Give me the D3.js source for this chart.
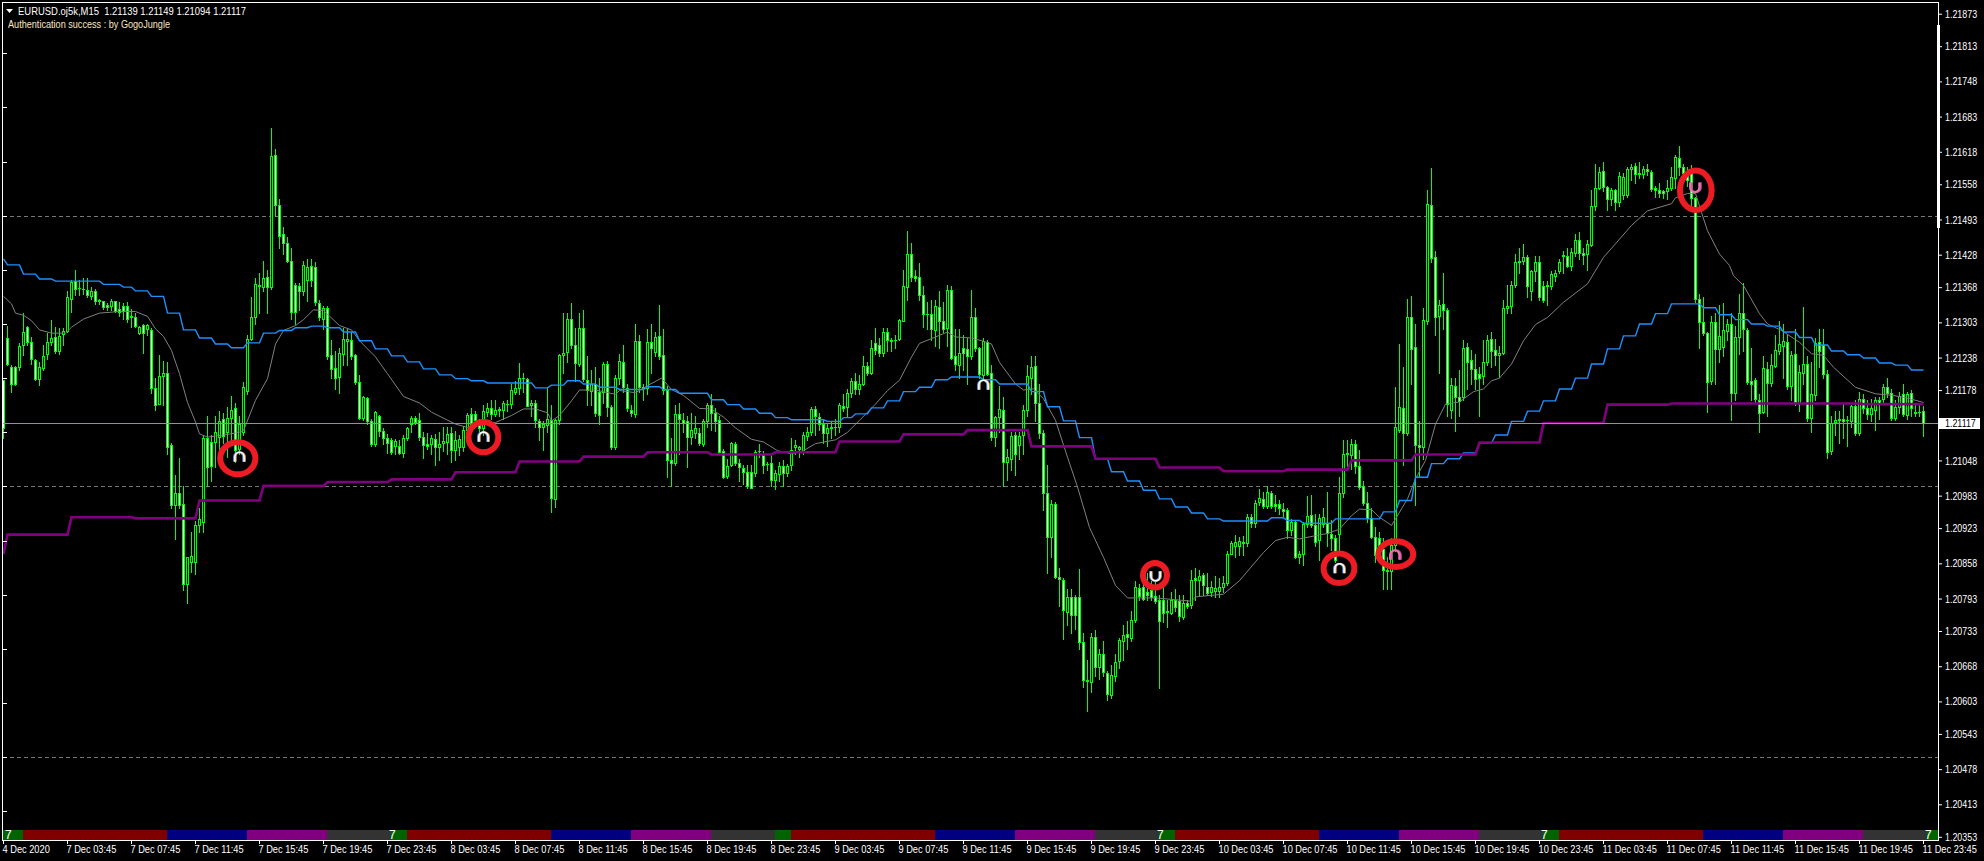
<!DOCTYPE html>
<html><head><meta charset="utf-8">
<script src="https://cdn.jsdelivr.net/npm/d3@7/dist/d3.min.js"></script>
<style>
html,body{margin:0;padding:0;background:#000;overflow:hidden}
svg{display:block}
text{font-family:"Liberation Sans",Arial,sans-serif;font-size:10.5px;fill:#fff}
</style></head><body>
<svg id="c" width="1984" height="861"></svg>
<script>
// Candles: [open, high, low, close], in points above 1.20000 (M15 bars)
const barsDec7 = [
[1196,1196,1089,1107],[1275,1296,1224,1227],[1220,1224,1175,1190],[1220,1222,1187,1190],[1220,1264,1215,1259],[1261,1320,1243,1286],[1295,1296,1261,1267],[1266,1276,1227,1235],[1233,1236,1196,1199],[1198,1230,1187,1220],
[1218,1261,1215,1241],[1244,1283,1236,1266],[1267,1308,1261,1275],[1276,1295,1246,1251],[1251,1292,1244,1278],[1281,1292,1261,1287],[1287,1360,1285,1349],[1347,1381,1323,1378],[1380,1400,1353,1365],[1367,1381,1353,1366],
[1365,1384,1355,1364],[1363,1384,1350,1353],[1352,1369,1347,1361],[1361,1364,1337,1342],[1344,1347,1337,1343],[1342,1343,1328,1332],[1335,1339,1325,1332],[1333,1346,1326,1342],[1342,1343,1323,1324],[1327,1340,1315,1322],
[1333,1339,1310,1324],[1334,1340,1303,1310],[1315,1327,1294,1312],[1313,1320,1294,1296],[1283,1297,1281,1295],[1299,1300,1246,1284],[1290,1300,1280,1299],[1289,1292,1172,1181],[1181,1200,1142,1150],[1153,1243,1153,1204],
[1204,1232,1150,1209],[1209,1230,1060,1073],[1076,1080,960,965],[965,1022,903,987],[987,1053,960,965],[968,1000,808,820],[820,869,785,869],[860,916,842,872],[860,937,839,928],[928,960,915,939],
[935,1095,916,1089],[1089,1130,1000,1035],[1082,1095,1010,1037],[1082,1130,1036,1100],[1092,1139,1040,1121],[1124,1135,1080,1093],[1100,1147,1055,1127],[1126,1167,1085,1142],[1144,1155,1045,1067],[1070,1130,1060,1116],
[1101,1192,1095,1183],[1177,1280,1170,1272],[1273,1350,1270,1312],[1312,1385,1300,1373],[1371,1395,1320,1372],[1369,1417,1360,1384],[1386,1400,1320,1368],[1369,1662,1365,1610],[1612,1623,1500,1520],[1520,1530,1440,1462],
[1466,1480,1430,1449],[1449,1460,1414,1417],[1417,1440,1310,1323],[1372,1375,1300,1322],[1370,1375,1326,1361],[1361,1417,1353,1409],[1381,1420,1342,1406],[1407,1420,1370,1381],[1405,1415,1335,1341],[1339,1345,1308,1312],
[1310,1333,1290,1329],[1329,1333,1235,1241],[1243,1270,1200,1216],[1218,1250,1180,1201],[1203,1255,1172,1246],[1244,1292,1225,1272],[1269,1290,1225,1273],[1270,1285,1235,1241],[1243,1245,1190,1192],[1192,1205,1124,1126],
[1126,1167,1122,1165],[1163,1166,1116,1120],[1120,1125,1074,1079],[1079,1140,1075,1138],[1130,1132,1093,1103],[1103,1108,1079,1090],[1090,1096,1062,1081]];
const barsDec8 = [
[1086,1090,1060,1064],[1074,1087,1059,1084],[1075,1085,1060,1061],[1061,1095,1055,1089],[1089,1110,1085,1107],[1116,1130,1100,1126],[1127,1130,1115,1119],[1122,1135,1085,1091],[1092,1100,1053,1077],[1078,1098,1070,1075],
[1078,1095,1060,1089],[1088,1097,1040,1073],[1072,1100,1048,1079],[1080,1110,1065,1083],[1082,1110,1060,1096],[1098,1110,1045,1068],[1068,1103,1048,1086],[1072,1095,1058,1087],[1073,1112,1066,1104],[1104,1135,1095,1132],
[1133,1145,1100,1105],[1134,1140,1110,1122],[1113,1125,1090,1107],[1107,1150,1095,1140],[1138,1155,1130,1144],[1145,1160,1125,1133],[1133,1160,1130,1142],[1143,1147,1130,1141],[1141,1158,1125,1155],[1153,1160,1140,1152],
[1153,1190,1145,1178],[1175,1195,1170,1181],[1181,1228,1170,1201],[1200,1209,1175,1201],[1199,1200,1148,1149],[1151,1160,1130,1155],[1155,1160,1110,1122],[1121,1125,1085,1110],[1109,1120,1068,1115],[1114,1183,1100,1125],
[1122,1150,952,978],[976,1125,962,1122],[1122,1245,1115,1243],[1243,1320,1210,1246],[1249,1320,1230,1310],[1310,1338,1255,1261],[1261,1292,1195,1228],[1227,1320,1222,1292],[1292,1325,1195,1198],[1196,1240,1150,1178],
[1177,1215,1150,1189],[1190,1220,1130,1135],[1175,1200,1115,1132],[1175,1230,1155,1226],[1227,1232,1130,1146],[1146,1150,1070,1072],[1072,1205,1069,1201],[1200,1245,1190,1232],[1230,1262,1175,1183],[1181,1190,1140,1144],
[1142,1150,1130,1135],[1134,1300,1128,1269],[1269,1280,1175,1183],[1183,1190,1160,1182],[1182,1290,1170,1267],[1267,1300,1210,1255],[1249,1285,1240,1276],[1278,1335,1235,1240],[1243,1290,1170,1179],[1179,1185,1017,1049],
[1048,1090,1000,1043],[1044,1150,1040,1134],[1134,1155,1060,1124],[1123,1135,1100,1118],[1121,1130,1035,1092],[1091,1135,1078,1105],[1098,1130,1090,1107],[1099,1107,1077,1080],[1078,1125,1075,1120],[1120,1155,1110,1150],
[1150,1170,1105,1136],[1136,1145,1102,1120],[1123,1130,1062,1064],[1066,1070,1015,1018],[1019,1050,1015,1038],[1040,1082,1038,1080],[1078,1082,1040,1043],[1043,1050,1010,1035],[1034,1040,1005,1027],[1027,1040,998,1000],
[1027,1040,997,998],[1025,1068,1020,1064],[1066,1078,1055,1065],[1058,1065,1025,1040],[1042,1045,1030,1041],[1043,1060,1000,1012]];
const barsDec9 = [
[1012,1030,995,1024],[1023,1045,1010,1038],[1038,1048,1000,1024],[1024,1042,1020,1038],[1040,1090,1030,1067],[1072,1085,1060,1076],[1070,1075,1055,1072],[1064,1100,1060,1095],[1094,1110,1085,1100],[1100,1146,1095,1143],
[1143,1148,1095,1130],[1128,1135,1105,1115],[1115,1122,1080,1098],[1098,1115,1075,1107],[1108,1120,1090,1109],[1110,1125,1095,1109],[1110,1155,1100,1150],[1148,1170,1140,1144],[1146,1180,1130,1173],[1172,1200,1165,1195],
[1195,1210,1170,1180],[1180,1205,1170,1190],[1190,1240,1188,1222],[1222,1230,1205,1209],[1210,1270,1208,1255],[1264,1292,1245,1252],[1261,1275,1240,1247],[1247,1292,1240,1286],[1286,1292,1250,1270],[1271,1275,1250,1269],
[1271,1280,1255,1270],[1273,1310,1270,1308],[1306,1400,1305,1370],[1369,1472,1345,1430],[1429,1450,1380,1387],[1388,1400,1380,1384],[1386,1412,1345,1353],[1353,1370,1295,1318],[1319,1340,1290,1318],[1318,1345,1270,1290],
[1289,1345,1260,1333],[1331,1360,1255,1305],[1305,1340,1285,1290],[1292,1372,1260,1363],[1363,1370,1235,1238],[1241,1290,1215,1226],[1224,1290,1200,1247],[1255,1280,1215,1247],[1253,1275,1190,1240],[1240,1362,1235,1312],
[1312,1330,1250,1255],[1255,1258,1200,1208],[1206,1275,1200,1269],[1267,1270,1205,1208],[1209,1225,1085,1091],[1091,1130,1075,1128],[1128,1185,1100,1143],[1142,1165,1000,1045],[1046,1070,1012,1054],[1050,1100,1030,1093],
[1095,1100,1022,1060],[1076,1100,1050,1093],[1095,1150,1060,1141],[1142,1225,1130,1204],[1200,1240,1170,1220],[1222,1240,1120,1155],[1155,1190,1090,1098],[1098,1105,957,988],[987,1040,840,906],[906,975,870,968],
[968,972,830,833],[832,850,780,829],[827,830,718,771],[768,810,745,796],[796,810,730,762],[795,800,737,762],[796,847,700,713],[713,730,630,642],[642,680,585,640],[639,730,620,722],
[722,735,650,667],[667,700,645,691],[691,715,650,658],[656,660,605,616],[615,670,610,652],[650,690,640,676],[677,720,665,716],[715,745,680,725],[727,752,700,722],[721,770,715,754],
[754,825,750,815],[813,820,790,797],[814,830,790,793],[805,840,790,800],[808,825,790,796],[797,825,785,789]];
const barsDec10 = [
[791,800,628,752],[791,815,750,767],[770,790,740,768],[767,805,765,790],[791,810,770,778],[789,800,752,760],[759,800,755,785],[785,790,775,780],[781,845,775,827],[830,850,790,828],
[828,845,800,835],[836,840,800,818],[814,840,800,804],[805,825,798,815],[807,835,795,813],[806,830,795,815],[814,835,805,821],[821,880,818,876],[876,900,875,896],[890,910,870,897],
[890,907,873,900],[897,908,873,895],[895,950,890,943],[943,950,925,932],[932,975,925,970],[971,995,965,979],[976,990,960,964],[964,1001,960,990],[988,992,960,964],[968,985,955,964],
[967,975,950,960],[959,970,945,955],[957,960,905,920],[920,940,910,935],[935,938,868,870],[870,880,858,876],[875,935,855,931],[931,983,925,945],[947,985,925,928],[928,950,890,898],
[901,950,865,941],[931,960,925,943],[932,990,890,914],[912,938,882,904],[904,910,860,864],[913,1018,877,987],[988,1085,980,1060],[1060,1085,1030,1062],[1058,1088,1032,1079],[1079,1085,1025,1038],
[1038,1067,995,999],[1001,1010,965,969],[969,990,935,941],[941,960,904,907],[907,925,860,873],[905,915,860,882],[885,905,810,845],[846,870,810,844],[843,905,810,892],[892,1183,880,1110],
[1105,1263,1100,1146],[1144,1220,1040,1098],[1098,1346,1095,1312],[1312,1352,1190,1254],[1257,1300,965,1077],[1076,1120,1020,1072],[1073,1330,1050,1307],[1306,1547,1300,1521],[1520,1588,1415,1421],[1423,1435,1280,1313],
[1315,1345,1210,1335],[1337,1395,1290,1325],[1325,1330,1130,1153],[1142,1200,1127,1187],[1185,1200,1103,1166],[1166,1215,1130,1157],[1166,1270,1160,1255],[1257,1265,1180,1230],[1233,1252,1190,1216],[1217,1245,1180,1198],
[1207,1220,1130,1200],[1204,1270,1190,1229],[1230,1280,1225,1270],[1272,1285,1220,1251],[1252,1272,1225,1243],[1242,1260,1203,1247],[1247,1345,1245,1329],[1329,1372,1320,1334],[1334,1380,1320,1372],[1372,1430,1368,1414],
[1414,1440,1395,1417],[1417,1447,1410,1424],[1424,1428,1350,1370],[1361,1400,1345,1398],[1398,1425,1380,1414],[1414,1425,1345,1350]];
const barsDec11 = [
[1370,1380,1340,1345],[1370,1380,1335,1372],[1371,1397,1365,1392],[1389,1400,1380,1394],[1397,1420,1395,1415],[1425,1435,1395,1427],[1426,1440,1405,1407],[1407,1440,1400,1433],[1431,1466,1425,1456],[1456,1470,1420,1431],
[1432,1440,1410,1428],[1429,1455,1400,1448],[1446,1547,1444,1518],[1517,1595,1510,1552],[1552,1590,1550,1581],[1583,1600,1545,1553],[1553,1555,1510,1530],[1530,1552,1520,1547],[1547,1550,1510,1526],[1525,1580,1518,1573],
[1538,1578,1530,1571],[1539,1590,1535,1587],[1586,1595,1565,1589],[1592,1597,1560,1577],[1578,1600,1570,1577],[1577,1592,1570,1587],[1587,1595,1575,1582],[1580,1585,1545,1550],[1552,1555,1535,1547],[1547,1560,1535,1541],
[1545,1548,1532,1541],[1546,1565,1530,1552],[1552,1590,1548,1571],[1569,1612,1552,1608],[1606,1628,1575,1590],[1590,1595,1565,1578],[1578,1590,1555,1566],[1580,1593,1520,1532],[1532,1535,1340,1347],[1347,1355,1255,1304],
[1304,1350,1280,1284],[1283,1285,1137,1193],[1195,1315,1190,1303],[1303,1320,1190,1254],[1254,1335,1230,1278],[1257,1338,1240,1289],[1287,1310,1270,1300],[1300,1320,1122,1173],[1173,1296,1160,1276],[1276,1356,1245,1321],
[1320,1375,1250,1290],[1289,1293,1190,1192],[1195,1255,1160,1190],[1196,1200,1155,1161],[1160,1170,1100,1136],[1138,1240,1135,1218],[1216,1230,1130,1191],[1191,1245,1185,1224],[1223,1280,1220,1252],[1251,1305,1245,1263],
[1260,1300,1200,1268],[1267,1280,1180,1186],[1186,1250,1160,1243],[1244,1290,1150,1156],[1155,1225,1140,1212],[1210,1331,1190,1227],[1226,1240,1120,1127],[1126,1230,1100,1170],[1169,1275,1160,1264],[1266,1290,1220,1250],
[1261,1290,1200,1207],[1207,1215,1052,1064],[1066,1130,1060,1118],[1119,1140,1095,1123],[1124,1140,1080,1123],[1125,1152,1090,1120],[1123,1130,1075,1122],[1120,1150,1110,1148],[1148,1160,1095,1099],[1098,1175,1095,1162],
[1162,1170,1135,1144],[1144,1160,1125,1133],[1133,1162,1120,1144],[1142,1165,1105,1159],[1160,1165,1125,1153],[1162,1190,1155,1184],[1183,1200,1165,1172],[1172,1180,1122,1127],[1127,1160,1122,1147],[1147,1175,1135,1167],
[1170,1190,1130,1134],[1132,1175,1125,1170],[1172,1178,1130,1144],[1138,1150,1130,1136],[1138,1150,1130,1137],[1139,1149,1094,1117]];

// Indicator lines: [bar, points above 1.20000]
const blueMA = [[0,1421],[1,1410],[5,1393],[9,1384],[13,1380],[25,1374],[30,1369],[33,1362],[37,1352],[41,1321],[45,1290],[49,1275],[53,1264],[57,1257],[61,1266],[65,1284],[69,1289],[73,1294],[77,1297],[81,1294],[85,1286],[89,1270],[93,1255],[97,1242],[101,1231],[105,1218],[109,1207],[113,1200],[117,1196],[121,1192],[133,1183],[137,1188],[141,1196],[145,1190],[149,1184],[154,1180],[161,1185],[165,1180],[169,1173],[177,1161],[181,1152],[185,1144],[189,1136],[193,1128],[197,1124],[206,1121],[210,1128],[213,1135],[217,1146],[221,1159],[225,1176],[229,1184],[233,1198],[237,1203],[245,1198],[249,1190],[257,1176],[261,1148],[265,1122],[269,1091],[273,1052],[277,1028],[281,1011],[285,994],[289,978],[293,963],[297,952],[301,941],[305,937],[317,943],[321,938],[325,933],[333,941],[345,954],[349,975],[353,1018],[357,1043],[361,1052],[365,1063],[369,1081],[373,1096],[377,1121],[381,1140],[385,1159],[389,1181],[393,1201],[397,1227],[401,1255],[405,1279],[409,1301],[413,1320],[417,1338],[425,1331],[429,1318],[433,1309],[437,1301],[441,1297],[445,1286],[449,1276],[453,1262],[457,1251],[461,1244],[465,1238],[469,1229],[473,1225],[477,1216],[480,1216]];
const purpleMA = [[0,876],[1,912],[17,944],[33,942],[49,975],[65,1002],[81,1009],[97,1014],[113,1027],[129,1047],[145,1056],[161,1064],[177,1060],[193,1064],[209,1084],[225,1097],[241,1105],[257,1075],[273,1052],[289,1036],[305,1029],[321,1032],[337,1049],[353,1060],[369,1082],[385,1118],[401,1152],[417,1154],[465,1153],[480,1153]];
const grayMA = [[0,1352],[2,1338],[3,1321],[5,1317],[7,1307],[9,1290],[12,1284],[15.5,1284],[17,1295],[20,1310],[24,1321],[29,1324],[33,1324],[36,1315],[38,1292],[40,1278],[42,1252],[44,1209],[46,1156],[48,1120],[49,1098],[51,1092],[56,1097],[59,1101],[60,1104],[63,1160],[66,1200],[68,1264],[70,1289],[73,1298],[75,1309],[77.5,1327],[80,1326],[82,1312],[84,1298],[87,1290],[89,1270],[93,1240],[96,1209],[100,1167],[104,1155],[107,1138],[113,1116],[116,1110],[123,1119],[127,1132],[130,1144],[133,1144],[136,1137],[137,1122],[139,1132],[142,1159],[144,1179],[148,1179],[153,1171],[154,1178],[158,1174],[161,1187],[164.5,1201],[167,1180],[170,1169],[174,1145],[177,1144],[180,1129],[183,1109],[187,1088],[190,1083],[193.5,1067],[197,1061],[200,1067],[203,1080],[208,1087],[211,1101],[214,1123],[218,1153],[221,1178],[224,1197],[227,1240],[229,1265],[233,1277],[236,1286],[238,1277],[242,1275],[245,1269],[247,1264],[249,1230],[253,1190],[255,1179],[257.5,1181],[260,1163],[263,1123],[266,1055],[268.5,1000],[271.5,925],[275,870],[278,818],[281,795],[288,795],[297,789],[298,797],[305,802],[309,827],[315,879],[318,901],[321,907],[324,904],[328,910],[331,914],[334,922],[337,947],[339,959],[342,958],[344,944],[347,929],[348,941],[351,978],[353,1015],[355.5,1049],[358,1116],[360.5,1153],[364,1157],[367.5,1176],[370,1181],[372,1196],[374,1201],[377,1227],[380,1270],[383,1300],[386,1313],[390,1341],[396,1375],[400,1424],[403,1449],[407,1483],[411,1510],[417,1523],[418,1534],[421,1542],[423,1542],[424.5,1507],[426,1473],[429,1430],[431.5,1409],[432.5,1390],[435,1372],[439,1320],[441,1301],[444.5,1289],[449,1267],[452,1246],[455,1243],[457.5,1221],[463,1184],[468,1172],[472.5,1169],[476.5,1163],[480,1156]];

// Price axis
const priceTickLabels = ["1.21873","1.21813","1.21748","1.21683","1.21618","1.21558","1.21493","1.21428","1.21368","1.21303","1.21238","1.21178","1.21048","1.20983","1.20923","1.20858","1.20793","1.20733","1.20668","1.20603","1.20543","1.20478","1.20413","1.20353"];
const currentPrice = "1.21117";
const levelLines = [1.215, 1.21, 1.205];
const leftTicks = [1.218,1.217,1.216,1.215,1.214,1.213,1.212,1.211,1.21,1.209,1.208,1.207,1.206,1.205,1.204];

// Time axis: one label every 16 bars
const timeLabels = ["4 Dec 2020","7 Dec 03:45","7 Dec 07:45","7 Dec 11:45","7 Dec 15:45","7 Dec 19:45","7 Dec 23:45","8 Dec 03:45","8 Dec 07:45","8 Dec 11:45","8 Dec 15:45","8 Dec 19:45","8 Dec 23:45","9 Dec 03:45","9 Dec 07:45","9 Dec 11:45","9 Dec 15:45","9 Dec 19:45","9 Dec 23:45","10 Dec 03:45","10 Dec 07:45","10 Dec 11:45","10 Dec 15:45","10 Dec 19:45","10 Dec 23:45","11 Dec 03:45","11 Dec 07:45","11 Dec 11:45","11 Dec 15:45","11 Dec 19:45","11 Dec 23:45"];

// Session strip
const sessionStart = [0,5,41,61,81,97,101,137,157,177,193,197,233,253,273,289,293,329,349,369,385,389,425,445,465,481];
const sessionColors = ["#006400","#800000","#000080","#800080","#333333"];
const sevenBars = [0.5,96.5,288.5,384.5,480.5];

// Signals: bar, price, shape, colour; circles: bar, price
const signalBars = [59,120,288,334,348,423,245];
const signalPrices = [1054,1091,835,848,873,1553,1187];
const signalUp = [1,1,0,1,1,0,1];
const signalPink = [0,0,0,0,1,1,0];
const circleBars = [58.7,120.1,288,334,348.2,423.2];
const circlePrices = [1052,1091,836,849,875,1547];
const circleRx = [17.6,14.9,12,15.4,17.4,15.8];
const circleRy = [16,15.2,12.3,14.8,12.8,19.7];

const header = "EURUSD.oj5k,M15  1.21139 1.21149 1.21094 1.21117";
const authLine = "Authentication success : by GogoJungle";

const LAST = 480;
const toPrice = p => 1.2 + p / 1e5;
const x = d3.scaleLinear().domain([0, LAST]).range([3, 1923]);
const y = d3.scaleLinear().domain([1.20353, 1.21873]).range([836.8, 13.7]);
const svg = d3.select("#c");
const px = v => Math.round(x(v));
const py = p => Math.round(y(toPrice(p)));

const candles = [...barsDec7,...barsDec8,...barsDec9,...barsDec10,...barsDec11]
  .map((b,i)=>({i,o:b[0],h:b[1],l:b[2],c:b[3]}));

// session strip
const stripEnd = 483.75;
svg.append("g").selectAll("rect").data(sessionStart).join("rect")
  .attr("x",d=>x(d)).attr("y",830).attr("height",10)
  .attr("width",(d,k)=>x(k+1<sessionStart.length?sessionStart[k+1]:stripEnd)-x(d))
  .attr("fill",(d,k)=>sessionColors[k===sessionStart.length-1?0:(k%5)]);
svg.append("g").selectAll("text").data(sevenBars).join("text")
  .attr("x",d=>x(d)).attr("y",839).style("font-size","12px").text("7");

// level lines
svg.append("g").selectAll("line").data(levelLines).join("line")
  .attr("x1",3).attr("x2",1938).attr("y1",d=>Math.round(y(d))+.5).attr("y2",d=>Math.round(y(d))+.5)
  .attr("stroke","#777").attr("stroke-dasharray","4,3");

// candles
const gc = svg.append("g").attr("shape-rendering","crispEdges");
gc.selectAll("rect.w").data(candles).join("rect").attr("class","w")
  .attr("x",d=>px(d.i)).attr("width",1)
  .attr("y",d=>py(d.h)).attr("height",d=>py(d.l)-py(d.h)+1).attr("fill","#00ff00");
gc.selectAll("rect.b").data(candles).join("rect").attr("class","b")
  .attr("x",d=>px(d.i)-1).attr("width",3)
  .attr("y",d=>py(Math.max(d.o,d.c))).attr("height",d=>py(Math.min(d.o,d.c))-py(Math.max(d.o,d.c))+1)
  .attr("fill","#00ff00");
gc.selectAll("rect.f").data(candles.filter(d=>py(Math.min(d.o,d.c))-py(Math.max(d.o,d.c))>=2)).join("rect").attr("class","f")
  .attr("x",d=>px(d.i)).attr("width",1)
  .attr("y",d=>py(Math.max(d.o,d.c))+1).attr("height",d=>py(Math.min(d.o,d.c))-py(Math.max(d.o,d.c))-1)
  .attr("fill",d=>d.o>d.c?"#ffffff":"#000000");

// indicators
const line = d3.line().x(d=>x(d[0])+.5).y(d=>y(toPrice(d[1]))+.5);
const stepped = k => k.flatMap((d,n)=> n+1<k.length ? [d,[k[n+1][0]-1,d[1]]] : [d]);
svg.append("path").attr("d",line(grayMA)).attr("fill","none").attr("stroke","#808080").attr("stroke-width",1);
svg.append("path").attr("d",line(stepped(blueMA))).attr("fill","none").attr("stroke","#1e90ff").attr("stroke-width",1.4);
svg.append("path").attr("d",line(stepped(purpleMA))).attr("fill","none").attr("stroke","#800080").attr("stroke-width",2.6);

// current price line
const cy = Math.round(y(+currentPrice));
svg.append("line").attr("x1",3).attr("x2",1938).attr("y1",cy+.5).attr("y2",cy+.5).attr("stroke","#8a94a0").attr("stroke-width",1);

// circles
svg.append("g").selectAll("ellipse").data(circleBars).join("ellipse")
  .attr("cx",d=>x(d)).attr("cy",(d,k)=>y(toPrice(circlePrices[k])))
  .attr("rx",(d,k)=>circleRx[k]).attr("ry",(d,k)=>circleRy[k])
  .attr("fill","none").attr("stroke","#ed1c24").attr("stroke-width",6);

// signal arrows
const arcUp = "M-4.6,4.5V-0.4A4.6,4.6 0 0 1 4.6,-0.4V4.5";
const arcDown = "M-4.6,-4.5V0.4A4.6,4.6 0 0 0 4.6,0.4V-4.5";
const gs = svg.append("g").selectAll("g").data(signalBars).join("g")
  .attr("transform",(d,k)=>`translate(${x(d)+.5},${y(toPrice(signalPrices[k]))})`);
gs.append("path").attr("d",(d,k)=>signalUp[k]?arcUp:arcDown).attr("transform","translate(.9,0)")
  .attr("fill","none").attr("stroke",(d,k)=>signalPink[k]?"#a04090":"#d8964c").attr("stroke-width",1.8);
gs.append("path").attr("d",(d,k)=>signalUp[k]?arcUp:arcDown).attr("transform","translate(-.9,0)")
  .attr("fill","none").attr("stroke",(d,k)=>signalPink[k]?"#e884c0":"#5d9be0").attr("stroke-width",1.8);
gs.append("path").attr("d",(d,k)=>signalUp[k]?arcUp:arcDown)
  .attr("fill","none").attr("stroke",(d,k)=>signalPink[k]?"#f06aa0":"#fff").attr("stroke-width",1.6);

// frame
const frame = svg.append("g").attr("shape-rendering","crispEdges").attr("fill","#fff");
frame.append("rect").attr("x",2).attr("y",2).attr("width",1937).attr("height",1);
frame.append("rect").attr("x",2).attr("y",2).attr("width",1).attr("height",839);
frame.append("rect").attr("x",2).attr("y",840).attr("width",1937).attr("height",1);
frame.append("rect").attr("x",1938).attr("y",2).attr("width",1).attr("height",839);
frame.append("rect").attr("x",1937).attr("y",25).attr("width",3).attr("height",203);
frame.selectAll("rect.lt").data(leftTicks).join("rect").attr("class","lt")
  .attr("x",3).attr("width",4).attr("height",1).attr("y",d=>Math.round(y(d)));

// axes
function squeeze(sel, factor){
  sel.each(function(){ const n=this.getComputedTextLength();
    this.setAttribute("textLength",(n*factor).toFixed(1));
    this.setAttribute("lengthAdjust","spacingAndGlyphs"); });
}
const yAxis = d3.axisRight(y).tickValues(priceTickLabels.map(Number))
  .tickFormat(d=>d.toFixed(5)).tickSize(3).tickPadding(3);
const gy = svg.append("g").attr("transform","translate(1939,0)").call(yAxis);
gy.select(".domain").remove();
gy.selectAll("line").attr("stroke","#fff");
gy.selectAll("text").attr("fill","#fff").attr("dy","0.34em");
squeeze(gy.selectAll("text"), .845);

const xAxis = d3.axisBottom(x).tickValues(timeLabels.map((d,k)=>k*16))
  .tickFormat((d,k)=>timeLabels[k]).tickSize(3).tickPadding(3);
const gx = svg.append("g").attr("transform","translate(0,841)").call(xAxis);
gx.select(".domain").remove();
gx.selectAll("line").attr("stroke","#fff");
gx.selectAll("text").attr("fill","#fff").attr("text-anchor","start").attr("dx",-1).attr("y",5);
squeeze(gx.selectAll("text"), .88);

// current price box
svg.append("rect").attr("x",1939).attr("y",cy-5).attr("width",41).attr("height",11).attr("fill","#fff");
const cl = svg.append("text").attr("x",1945).attr("y",cy+4).style("fill","#000").text(currentPrice);
squeeze(cl,.845);

// header
svg.append("path").attr("d",d3.line()([[6,9],[13,9],[9.5,13]])+"Z").attr("fill","#fff");
const fit = (sel,w)=>sel.attr("textLength",w).attr("lengthAdjust","spacingAndGlyphs");
fit(svg.append("text").attr("x",18).attr("y",14.5).style("white-space","pre").attr("xml:space","preserve").text(header),228);
fit(svg.append("text").attr("x",8).attr("y",27.5).style("fill","#fbe6c4").text(authLine),162);
</script></body></html>
